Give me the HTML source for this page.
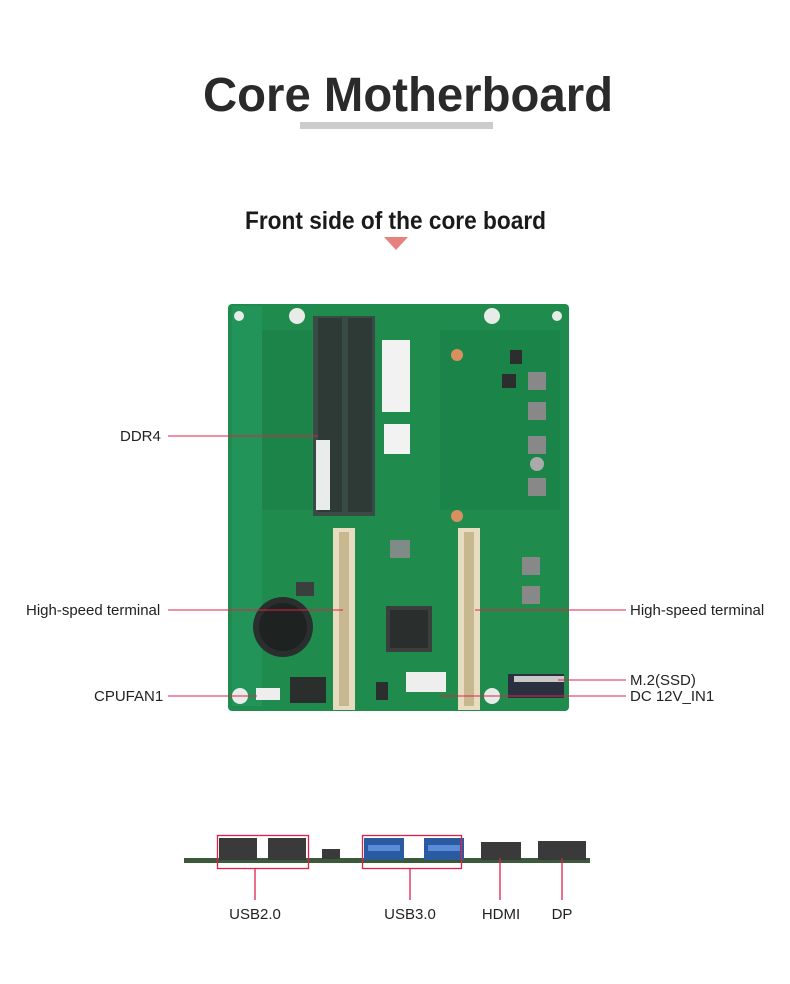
<!DOCTYPE html>
<html><head><meta charset="utf-8"><style>
html,body{margin:0;padding:0;background:#fff;}
svg{display:block;}
text{font-family:"Liberation Sans",sans-serif;}
</style></head><body>
<svg width="790" height="984" viewBox="0 0 790 984" xmlns="http://www.w3.org/2000/svg">
<rect width="790" height="984" fill="#fff"/>
<text x="203" y="111" font-size="48" font-weight="bold" fill="#2a2a2a" textLength="410" lengthAdjust="spacingAndGlyphs">Core Motherboard</text>
<rect x="300" y="122" width="193" height="7" fill="#cccccc"/>
<text x="245" y="229" font-size="25" font-weight="bold" fill="#1a1a1a" textLength="301" lengthAdjust="spacingAndGlyphs">Front side of the core board</text>
<polygon points="384,237 408,237 396,250" fill="#e88080"/>

<!-- board -->
<rect x="228" y="304" width="341" height="407" rx="4" fill="#1f8c4e"/>
<rect x="232" y="306" width="30" height="400" fill="#22945a"/>
<rect x="262" y="330" width="50" height="180" fill="#1c8448"/>
<rect x="440" y="330" width="120" height="180" fill="#1a8046" opacity="0.7"/>
<!-- DDR slots -->
<rect x="313" y="316" width="62" height="200" fill="#3a4a44"/>
<rect x="318" y="318" width="24" height="194" fill="#2d3a36"/>
<rect x="348" y="318" width="24" height="194" fill="#2d3a36"/>
<rect x="316" y="440" width="14" height="70" fill="#e8ecea"/>
<rect x="382" y="340" width="28" height="72" fill="#f2f2f2"/>
<rect x="384" y="424" width="26" height="30" fill="#f2f2f2"/>
<circle cx="457" cy="355" r="6" fill="#d89060"/>
<circle cx="457" cy="516" r="6" fill="#d89060"/>
<!-- terminals -->
<rect x="333" y="528" width="22" height="182" fill="#e8dcc0"/>
<rect x="339" y="532" width="10" height="174" fill="#c8b890"/>
<rect x="458" y="528" width="22" height="182" fill="#e8dcc0"/>
<rect x="464" y="532" width="10" height="174" fill="#c8b890"/>
<!-- chip -->
<rect x="386" y="606" width="46" height="46" fill="#3a3e3c"/>
<rect x="390" y="610" width="38" height="38" fill="#2a2e2c"/>
<rect x="390" y="540" width="20" height="18" fill="#808a86"/>
<!-- battery -->
<circle cx="283" cy="627" r="30" fill="#2a2e2c"/>
<circle cx="283" cy="627" r="24" fill="#1e2220"/>
<rect x="296" y="582" width="18" height="14" fill="#3a3e3c"/>
<!-- inductors -->
<rect x="528" y="372" width="18" height="18" fill="#888"/>
<rect x="528" y="402" width="18" height="18" fill="#888"/>
<rect x="528" y="436" width="18" height="18" fill="#888"/>
<circle cx="537" cy="464" r="7" fill="#aaa"/>
<rect x="528" y="478" width="18" height="18" fill="#888"/>
<rect x="522" y="557" width="18" height="18" fill="#888"/>
<rect x="522" y="586" width="18" height="18" fill="#888"/>
<rect x="502" y="374" width="14" height="14" fill="#2a2e2c"/>
<rect x="510" y="350" width="12" height="14" fill="#2a2e2c"/>
<!-- headers/connectors -->
<rect x="290" y="677" width="36" height="26" fill="#2a2e2c"/>
<rect x="256" y="688" width="24" height="12" fill="#eee"/>
<rect x="406" y="672" width="40" height="20" fill="#eee"/>
<rect x="508" y="674" width="56" height="24" fill="#2a3040"/>
<rect x="514" y="676" width="50" height="6" fill="#c8c8c8"/>
<rect x="376" y="682" width="12" height="18" fill="#2a2e2c"/>
<!-- mounting holes -->
<g fill="#e8ece8"><circle cx="239" cy="316" r="5"/><circle cx="297" cy="316" r="8"/><circle cx="492" cy="316" r="8"/><circle cx="240" cy="696" r="8"/><circle cx="492" cy="696" r="8"/><circle cx="557" cy="316" r="5"/></g>

<!-- callouts -->
<g stroke="#e0204a" stroke-width="1">
<line x1="168" y1="436" x2="318" y2="436"/>
<line x1="168" y1="610" x2="343" y2="610"/>
<line x1="475" y1="610" x2="626" y2="610"/>
<line x1="558" y1="680" x2="626" y2="680"/>
<line x1="440" y1="696" x2="626" y2="696"/>
<line x1="168" y1="696" x2="257" y2="696"/>
</g>
<g font-size="15" fill="#222">
<text x="120" y="441">DDR4</text>
<text x="26" y="615">High-speed terminal</text>
<text x="630" y="615">High-speed terminal</text>
<text x="630" y="685">M.2(SSD)</text>
<text x="630" y="701">DC 12V_IN1</text>
<text x="94" y="701">CPUFAN1</text>
</g>

<!-- side view -->
<rect x="184" y="858" width="406" height="5" fill="#3a5a3a"/>
<g fill="#3a3a3a">
<rect x="219" y="838" width="38" height="22"/><rect x="268" y="838" width="38" height="22"/>
<rect x="322" y="849" width="18" height="10"/>
<rect x="481" y="842" width="40" height="18"/><rect x="538" y="841" width="48" height="19"/>
</g>
<rect x="364" y="838" width="40" height="22" fill="#2a5aa0"/>
<rect x="424" y="838" width="40" height="22" fill="#2a5aa0"/>
<rect x="368" y="845" width="32" height="6" fill="#5a8ad8"/>
<rect x="428" y="845" width="32" height="6" fill="#5a8ad8"/>
<g stroke="#e0204a" stroke-width="1.3" fill="none">
<rect x="217.5" y="835.5" width="91" height="33"/>
<rect x="362.5" y="835.5" width="99" height="33"/>
<line x1="255" y1="869" x2="255" y2="900"/>
<line x1="410" y1="869" x2="410" y2="900"/>
<line x1="500" y1="858" x2="500" y2="900"/>
<line x1="562" y1="858" x2="562" y2="900"/>
</g>
<g font-size="15" fill="#222" text-anchor="middle">
<text x="255" y="919">USB2.0</text>
<text x="410" y="919">USB3.0</text>
<text x="501" y="919">HDMI</text>
<text x="562" y="919">DP</text>
</g>
</svg>
</body></html>
